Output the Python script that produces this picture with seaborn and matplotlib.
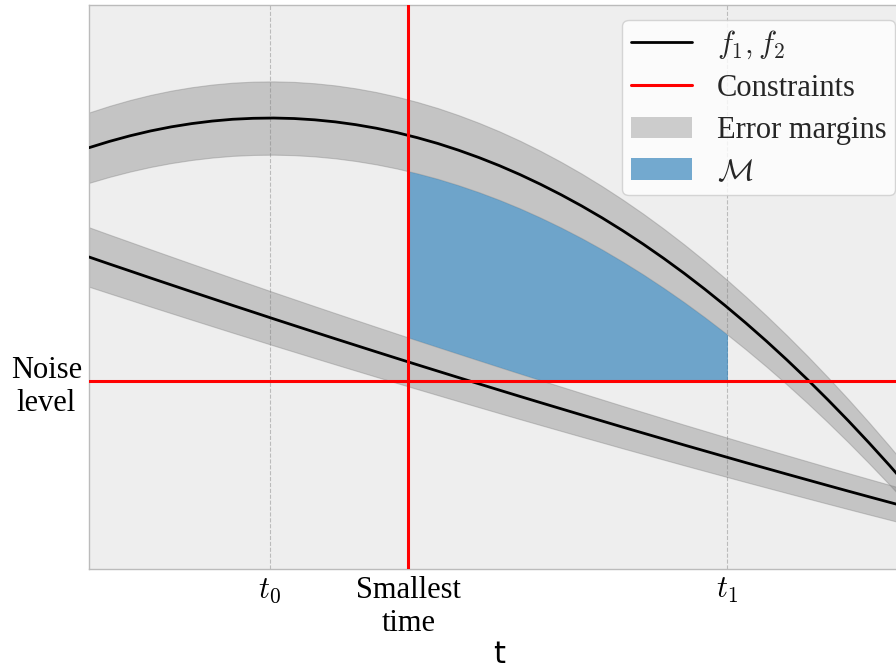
import numpy as np
import matplotlib
matplotlib.use("Agg")
import matplotlib.pyplot as plt
from matplotlib.patches import Patch, Rectangle
from matplotlib.lines import Line2D
import seaborn as sns

# Time grid and the two model curves f1, f2
t = [0.00, 0.25, 0.50, 0.75, 1.00, 1.25, 1.50, 1.75, 2.00, 2.25,
     2.50, 2.75, 3.00, 3.25, 3.50, 3.75, 4.00, 4.25, 4.50, 4.75,
     5.00, 5.25, 5.50, 5.75, 6.00, 6.25, 6.50, 6.75, 7.00, 7.25,
     7.50, 7.75, 8.00, 8.25, 8.50, 8.75, 9.00, 9.25, 9.50, 9.75, 10.00]
f1 = [7.470, 7.582, 7.681, 7.767, 7.839, 7.897, 7.942, 7.974, 7.991, 7.996,
      7.987, 7.964, 7.928, 7.878, 7.815, 7.738, 7.647, 7.544, 7.426, 7.295,
      7.151, 6.993, 6.821, 6.636, 6.438, 6.226, 6.000, 5.761, 5.508, 5.242,
      4.962, 4.669, 4.362, 4.042, 3.708, 3.361, 3.000, 2.626, 2.238, 1.837, 1.422]
f2 = [5.532, 5.407, 5.284, 5.160, 5.038, 4.916, 4.795, 4.674, 4.555, 4.435,
      4.317, 4.199, 4.082, 3.966, 3.850, 3.735, 3.621, 3.508, 3.395, 3.283,
      3.171, 3.060, 2.950, 2.841, 2.732, 2.624, 2.516, 2.410, 2.304, 2.198,
      2.094, 1.990, 1.886, 1.784, 1.682, 1.581, 1.480, 1.380, 1.281, 1.183, 1.085]

# Error model: relative part plus absolute noise floor
rel_err = 0.05
abs_err = 0.25

# Constraints and reference times
t0 = 2.2
t_min = 3.89
t1 = 7.77
noise_level = 3.33

x_tick_pos = [t0, t_min, t1]
x_tick_labels = ["$t_0$", "Smallest\ntime", "$t_1$"]
y_tick_pos = [noise_level]
y_tick_labels = ["Noise\nlevel"]
legend_labels = ["$f_1, f_2$", "Constraints", "Error margins", r"$\mathcal{M}$"]

sns.set_theme(style="white")
plt.rcParams["font.family"] = ["Liberation Serif", "DejaVu Sans"]
plt.rcParams["mathtext.fontset"] = "cm"

t = np.array(t)
f1 = np.array(f1)
f2 = np.array(f2)
m1 = rel_err * np.abs(f1) + abs_err
m2 = rel_err * np.abs(f2) + abs_err

fig = plt.figure(figsize=(8.96, 6.7), dpi=100)
ax = fig.add_axes([89 / 896, 101 / 670, 821 / 896, 564 / 670])
ax.set_facecolor("#eeeeee")
for sp in ax.spines.values():
    sp.set_color("#bbbbbb")
    sp.set_linewidth(1.0)

band_color = "gray"
band_alpha = 0.38
m_color = "#1f77b4"
m_alpha = 0.62

# Error bands and curves
for f, m in ((f1, m1), (f2, m2)):
    ax.fill_between(t, f - m, f + m, facecolor=band_color, edgecolor=band_color,
                    alpha=band_alpha, linewidth=0.8, zorder=1)
    sns.lineplot(x=t, y=f, color="black", linewidth=2.0, ax=ax, zorder=3)

# Admissible region M: above the noise level, right of the smallest time,
# left of t1, between the two error bands
region = ax.fill_between(t, f2 + m2, f1 - m1, facecolor=m_color, alpha=m_alpha,
                         linewidth=0, zorder=2)
region.set_clip_path(Rectangle((t_min, noise_level), t1 - t_min, 20,
                               transform=ax.transData))

ax.axvline(t_min, color="red", linewidth=2.2, zorder=4)
ax.axhline(noise_level, color="red", linewidth=2.2, zorder=4)

ax.set_xlim(0, 10)
ax.set_ylim(0, 10)
ax.set_xticks(x_tick_pos)
ax.set_xticklabels(x_tick_labels, fontsize=22)
ax.set_yticks(y_tick_pos)
ax.set_yticklabels(y_tick_labels, fontsize=22, multialignment="center")
ax.tick_params(axis="both", direction="in", length=4, width=1,
               color="#333333", labelcolor="black", pad=5)
ax.grid(axis="x", linestyle="--", color="#bbbbbb", linewidth=0.8)
ax.grid(axis="y", visible=False)
ax.set_axisbelow(True)

ax.set_xlabel("t", fontfamily="DejaVu Sans", fontsize=22, labelpad=1, color="black")
ax.set_ylabel("")

handles = [
    Line2D([], [], color="black", linewidth=2.0),
    Line2D([], [], color="red", linewidth=2.2),
    Patch(facecolor=band_color, alpha=band_alpha, edgecolor="none"),
    Patch(facecolor=m_color, alpha=m_alpha, edgecolor="none"),
]
ax.legend(handles, legend_labels, loc="upper right", fontsize=22, frameon=True,
          framealpha=0.8, facecolor="white", edgecolor="#cccccc", fancybox=True,
          borderaxespad=0.5, labelspacing=0.42, borderpad=0.28)

fig.savefig("out.png", dpi=100)
